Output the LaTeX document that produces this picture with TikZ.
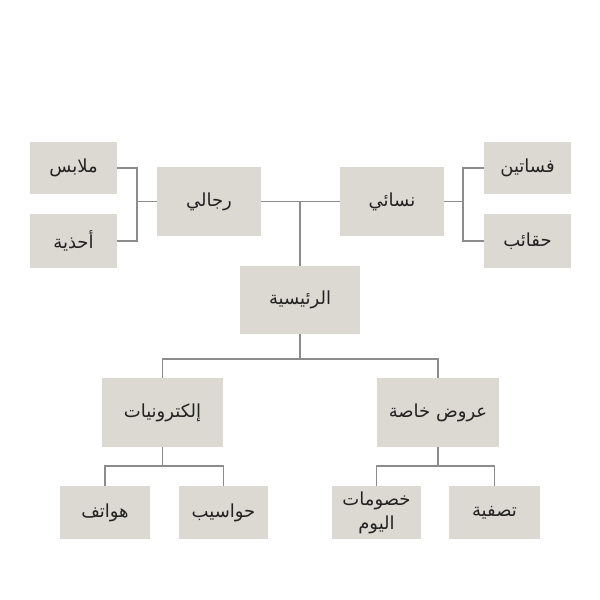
\documentclass[tikz,border=0pt]{standalone}
\usepackage{fontspec}
\usepackage{xcolor}
\TeXXeTstate=1
\newfontfamily\arabicfont[Script=Arabic]{DejaVu Sans}
\definecolor{boxgray}{HTML}{DCD9D3}
\definecolor{linegray}{HTML}{8C8C8C}
\definecolor{textgray}{HTML}{222222}
\tikzset{
  catbox/.style={fill=boxgray, text=textgray, inner sep=0pt, align=center,
    font=\arabicfont\fontsize{18}{24}\selectfont},
  link/.style={draw=linegray, line width=1.6pt}
}
\newcommand{\ar}[1]{\beginR #1\endR}

\begin{document}
\begin{tikzpicture}[x=1pt,y=-1pt]
\useasboundingbox[fill=white] (0,0) rectangle (600,600);
% top row
\node[catbox, minimum width=87pt, minimum height=52pt] (malabis) at (73.5,168) {\ar{ملابس}};
\node[catbox, minimum width=87pt, minimum height=54pt] (ahdhiya) at (73.5,241) {\ar{أحذية}};
\node[catbox, minimum width=104pt, minimum height=69pt] (rijali) at (209,201.5) {\ar{رجالي}};
\node[catbox, minimum width=104pt, minimum height=69pt] (nisai) at (392,201.5) {\ar{نسائي}};
\node[catbox, minimum width=87pt, minimum height=52pt] (fasatin) at (527.5,168) {\ar{فساتين}};
\node[catbox, minimum width=87pt, minimum height=54pt] (haqaib) at (527.5,241) {\ar{حقائب}};
% middle
\node[catbox, minimum width=120pt, minimum height=68pt] (main) at (300,300) {\ar{الرئيسية}};
\node[catbox, minimum width=121pt, minimum height=69pt] (elec) at (162.5,412.5) {\ar{إلكترونيات}};
\node[catbox, minimum width=122pt, minimum height=69pt] (offers) at (438,412.5) {\ar{عروض خاصة}};
% bottom row
\node[catbox, minimum width=90pt, minimum height=53pt] (hawatif) at (105,512.5) {\ar{هواتف}};
\node[catbox, minimum width=89pt, minimum height=53pt] (hawasib) at (223.5,512.5) {\ar{حواسيب}};
\node[catbox, minimum width=89pt, minimum height=53pt] (khusumat) at (376.5,512.5) {\ar{خصومات}\\\ar{اليوم}};
\node[catbox, minimum width=91pt, minimum height=53pt] (tasfiya) at (494.5,512.5) {\ar{تصفية}};

% connectors
\draw[link] (malabis.east) -- ++(20,0) |- (ahdhiya.east);
\draw[link] (rijali.west) -- ++(-20,0);
\draw[link] (fasatin.west) -- ++(-21,0) |- (haqaib.west);
\draw[link] (nisai.east) -- ++(19,0);
\draw[link] (rijali.east) -- (nisai.west);
\draw[link] (main.north) -- (main.north |- rijali.east);
\draw[link] (main.south) -- ++(0,25) -| (elec.north);
\draw[link] (main.south) ++(0,25) -| (offers.north);
\draw[link] (elec.south) -- ++(0,19) -| (hawatif.north);
\draw[link] (elec.south) ++(0,19) -| (hawasib.north);
\draw[link] (offers.south) -- ++(0,19) -| (khusumat.north);
\draw[link] (offers.south) ++(0,19) -| (tasfiya.north);
\end{tikzpicture}
\end{document}
